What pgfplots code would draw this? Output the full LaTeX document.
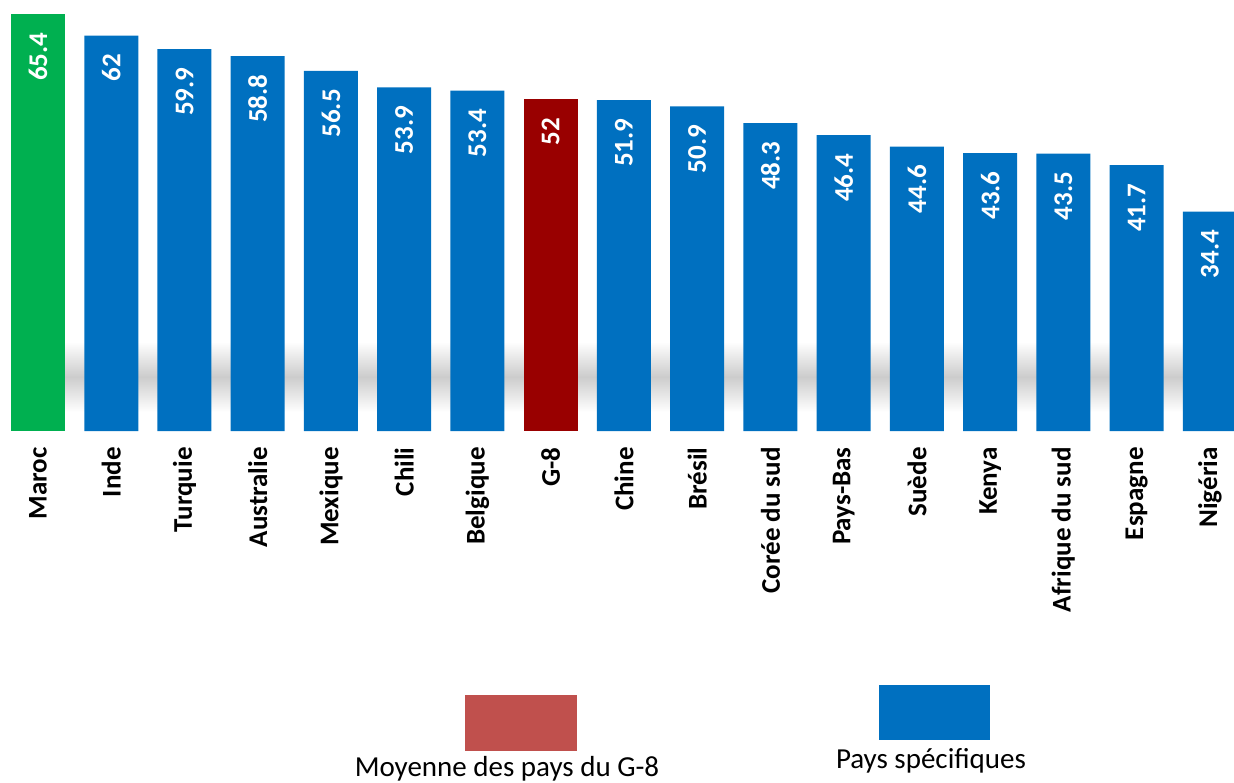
\documentclass[border=0pt]{standalone}
\usepackage{pgfplots}
\pgfplotsset{compat=1.18}
\usepackage{fontspec}
\setmainfont{Carlito}
\definecolor{cgreen}{HTML}{00B050}
\definecolor{cblue}{HTML}{0070C0}
\definecolor{cred}{HTML}{990000}
\definecolor{clegred}{HTML}{C0504D}
\begin{document}
\begin{tikzpicture}
\begin{axis}[
  set layers,
  at={(0,0)}, anchor=south west,
  scale only axis, width=617pt, height=215.5pt,
  xmin=-0.519, xmax=16.33, ymin=0, ymax=67.6,
  ybar, bar shift=0pt, bar width=27pt,
  axis line style={draw=none},
  major tick length=0pt,
  ytick=\empty,
  xtick={0,...,16},
  xticklabels={Maroc,Inde,Turquie,Australie,Mexique,Chili,Belgique,G-8,Chine,Brésil,Corée du sud,Pays-Bas,Suède,Kenya,Afrique du sud,Espagne,Nigéria},
  xticklabel style={rotate=90, anchor=east, font=\fontsize{13.5pt}{16pt}\selectfont\bfseries, inner ysep=0pt, inner xsep=8pt},
  nodes near coords,
  /pgf/number format/assume math mode=true,
  every node near coord/.append style={rotate=90, anchor=east, text=white, font=\fontsize{13.5pt}{15pt}\selectfont\bfseries, inner ysep=0pt, inner xsep=9pt},
  clip=false,
]
\begin{pgfonlayer}{axis background}
\shade[top color=white, bottom color=white, middle color=black!20] (axis cs:0.37,3.0) rectangle (axis cs:16.5,14.0);
\end{pgfonlayer}
\addplot[fill=cgreen, draw=none] coordinates {(0,65.4)};
\addplot[fill=cblue, draw=none] coordinates {(1,62) (2,59.9) (3,58.8) (4,56.5) (5,53.9) (6,53.4) (8,51.9) (9,50.9) (10,48.3) (11,46.4) (12,44.6) (13,43.6) (14,43.5) (15,41.7) (16,34.4)};
\addplot[fill=cred, draw=none] coordinates {(7,52)};
\end{axis}
\fill[clegred] (232.5pt,-132pt) rectangle (288.5pt,-160pt);
\node[anchor=base, font=\fontsize{14.5pt}{17pt}\selectfont] at (253.5pt,-172.5pt) {Moyenne des pays du G-8};
\fill[cblue] (439.5pt,-127pt) rectangle (495pt,-154.5pt);
\node[anchor=base, font=\fontsize{14.5pt}{17pt}\selectfont] at (465.5pt,-168.5pt) {Pays spécifiques};
\pgfresetboundingbox
\path[use as bounding box] (0,-175.5pt) rectangle (617pt,215.5pt);
\end{tikzpicture}
\end{document}
